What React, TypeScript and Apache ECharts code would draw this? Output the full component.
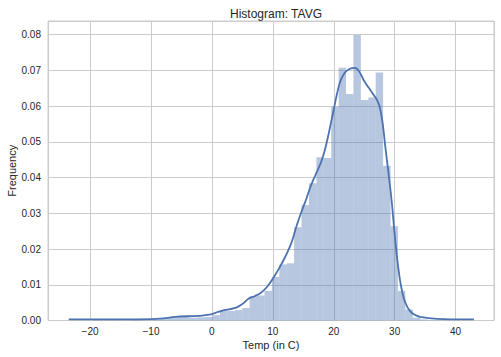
import React, { useEffect, useRef } from "react";
import * as echarts from "echarts";

const TITLE = "Histogram: TAVG";
const X_LABEL = "Temp (in C)";
const Y_LABEL = "Frequency";

// histogram bin edges (°C) and bar heights (density)
const binEdges = [
  -19.37, -18.15, -16.93, -15.72, -14.5, -13.28, -12.07, -10.85, -9.63, -8.41,
  -7.2, -5.98, -4.76, -3.55, -2.33, -1.11, 0.11, 1.32, 2.54, 3.76,
  4.98, 6.19, 7.41, 8.63, 9.84, 11.06, 12.28, 13.49, 14.71, 15.93,
  17.15, 18.36, 19.58, 20.8, 22.01, 23.23, 24.45, 25.66, 26.88, 28.1,
  29.32, 30.53, 31.75, 32.97, 34.18, 35.4, 36.62, 37.83, 39.05,
];
const binHeights = [
  0.0001, 0.0001, 0.0001, 0.0001, 0.0001, 0.0002, 0.0002, 0.0003, 0.0003, 0.0005,
  0.0008, 0.0009, 0.001, 0.0008, 0.0009, 0.001, 0.0015, 0.0028, 0.0027, 0.0029,
  0.0035, 0.0068, 0.007, 0.0083, 0.0122, 0.0157, 0.016, 0.0261, 0.0323, 0.0384,
  0.0457, 0.0455, 0.0598, 0.0707, 0.0634, 0.0799, 0.0617, 0.0624, 0.0694, 0.0433,
  0.0264, 0.0083, 0.0031, 0.0008, 0.0003, 0.0001, 0.0001, 0.0001,
];

// KDE curve
const kdeX = [
  -23.5, -20, -15, -10, -8, -6, -4, -2, -1, 0, 1, 2, 3, 4, 5, 6, 7, 8, 9, 10,
  11, 12, 13, 14, 15, 15.5, 16, 16.5, 17, 17.5, 18, 18.5, 19, 19.5, 20, 20.5,
  21, 21.5, 22, 22.5, 23, 23.5, 24, 24.5, 25, 25.5, 26, 26.5, 27, 27.5, 28,
  28.5, 29, 29.5, 30, 30.5, 31, 31.5, 32, 32.5, 33, 34, 35, 36, 38, 40, 43,
];
const kdeY = [
  0.0003, 0.0003, 0.0003, 0.0004, 0.0006, 0.001, 0.0012, 0.0013, 0.0015, 0.0018,
  0.0024, 0.0029, 0.0032, 0.0036, 0.0046, 0.0061, 0.0068, 0.0077, 0.0093, 0.0117,
  0.0145, 0.0177, 0.0215, 0.027, 0.0318, 0.034, 0.0366, 0.0388, 0.0407, 0.0426,
  0.0447, 0.0474, 0.051, 0.055, 0.059, 0.0632, 0.0665, 0.0685, 0.0697, 0.0703,
  0.0706, 0.0707, 0.0701, 0.0687, 0.067, 0.0657, 0.0645, 0.0632, 0.062, 0.06,
  0.0555, 0.048, 0.041, 0.0335, 0.024, 0.016, 0.01, 0.0062, 0.004, 0.0027,
  0.0019, 0.0011, 0.0008, 0.0006, 0.0004, 0.0003, 0.0003,
];

const X_MIN = -26.9;
const X_MAX = 46.3;
const Y_MAX = 0.0838;

export default function App() {
  const ref = useRef<HTMLDivElement>(null);

  useEffect(() => {
    if (!ref.current) return;
    const chart = echarts.init(ref.current, null, { renderer: "svg" });
    const histData = binHeights.map((h, i) => [binEdges[i], binEdges[i + 1], h]);
    const kdeData = kdeX.map((x, i) => [x, kdeY[i]]);
    const font = "'Liberation Sans', Arial, sans-serif";
    const gridColor = "#cccccc";
    const textColor = "#262626";

    chart.setOption({
      animation: false,
      backgroundColor: "#ffffff",
      title: {
        text: TITLE,
        left: 271,
        top: 3,
        textAlign: "center",
        textStyle: { fontFamily: font, fontSize: 12, fontWeight: "normal", color: textColor },
      },
      grid: {
        left: 48,
        right: 7,
        top: 21,
        bottom: 36.5,
        show: true,
        borderColor: gridColor,
        borderWidth: 1,
        outerBoundsMode: "none",
      },
      xAxis: {
        type: "value",
        min: X_MIN,
        max: X_MAX,
        splitNumber: 7,
        name: X_LABEL,
        nameLocation: "middle",
        nameGap: 18.5,
        nameMoveOverlap: false,
        nameTextStyle: { fontFamily: font, fontSize: 11, color: textColor },
        axisLine: { show: false },
        axisTick: { show: false },
        axisLabel: {
          showMinLabel: false,
          showMaxLabel: false,
          margin: 6,
          fontFamily: font,
          fontSize: 10,
          color: textColor,
          formatter: (v: number) => String(Math.round(v)).replace("-", "\u2212"),
        },
        splitLine: { show: true, lineStyle: { color: gridColor, width: 1 } },
      },
      yAxis: {
        type: "value",
        min: 0,
        max: Y_MAX,
        interval: 0.01,
        name: Y_LABEL,
        nameLocation: "middle",
        nameGap: 31,
        nameMoveOverlap: false,
        nameTextStyle: { fontFamily: font, fontSize: 11, color: textColor },
        axisLine: { show: false },
        axisTick: { show: false },
        axisLabel: {
          showMaxLabel: false,
          margin: 7,
          fontFamily: font,
          fontSize: 10,
          color: textColor,
          formatter: (v: number) => v.toFixed(2),
        },
        splitLine: { show: true, lineStyle: { color: gridColor, width: 1 } },
      },
      series: [
        {
          type: "custom",
          name: "hist",
          data: histData,
          encode: { x: [0, 1], y: 2 },
          renderItem: (params: any, api: any) => {
            const x0 = api.value(0);
            const x1 = api.value(1);
            const h = api.value(2);
            const p0 = api.coord([x0, h]);
            const p1 = api.coord([x1, 0]);
            return {
              type: "rect",
              shape: { x: p0[0], y: p0[1], width: p1[0] - p0[0], height: p1[1] - p0[1] },
              style: { fill: "rgba(76,114,176,0.4)", stroke: "none" },
            };
          },
          z: 2,
        },
        {
          type: "line",
          name: "kde",
          data: kdeData,
          smooth: 0.35,
          showSymbol: false,
          symbol: "none",
          lineStyle: { color: "#4c72b0", width: 1.8 },
          z: 3,
        },
      ],
    });

    return () => chart.dispose();
  }, []);

  return (
    <div
      ref={ref}
      style={{ position: "absolute", left: 0, top: 0, width: 501, height: 357, background: "#fff" }}
    />
  );
}
